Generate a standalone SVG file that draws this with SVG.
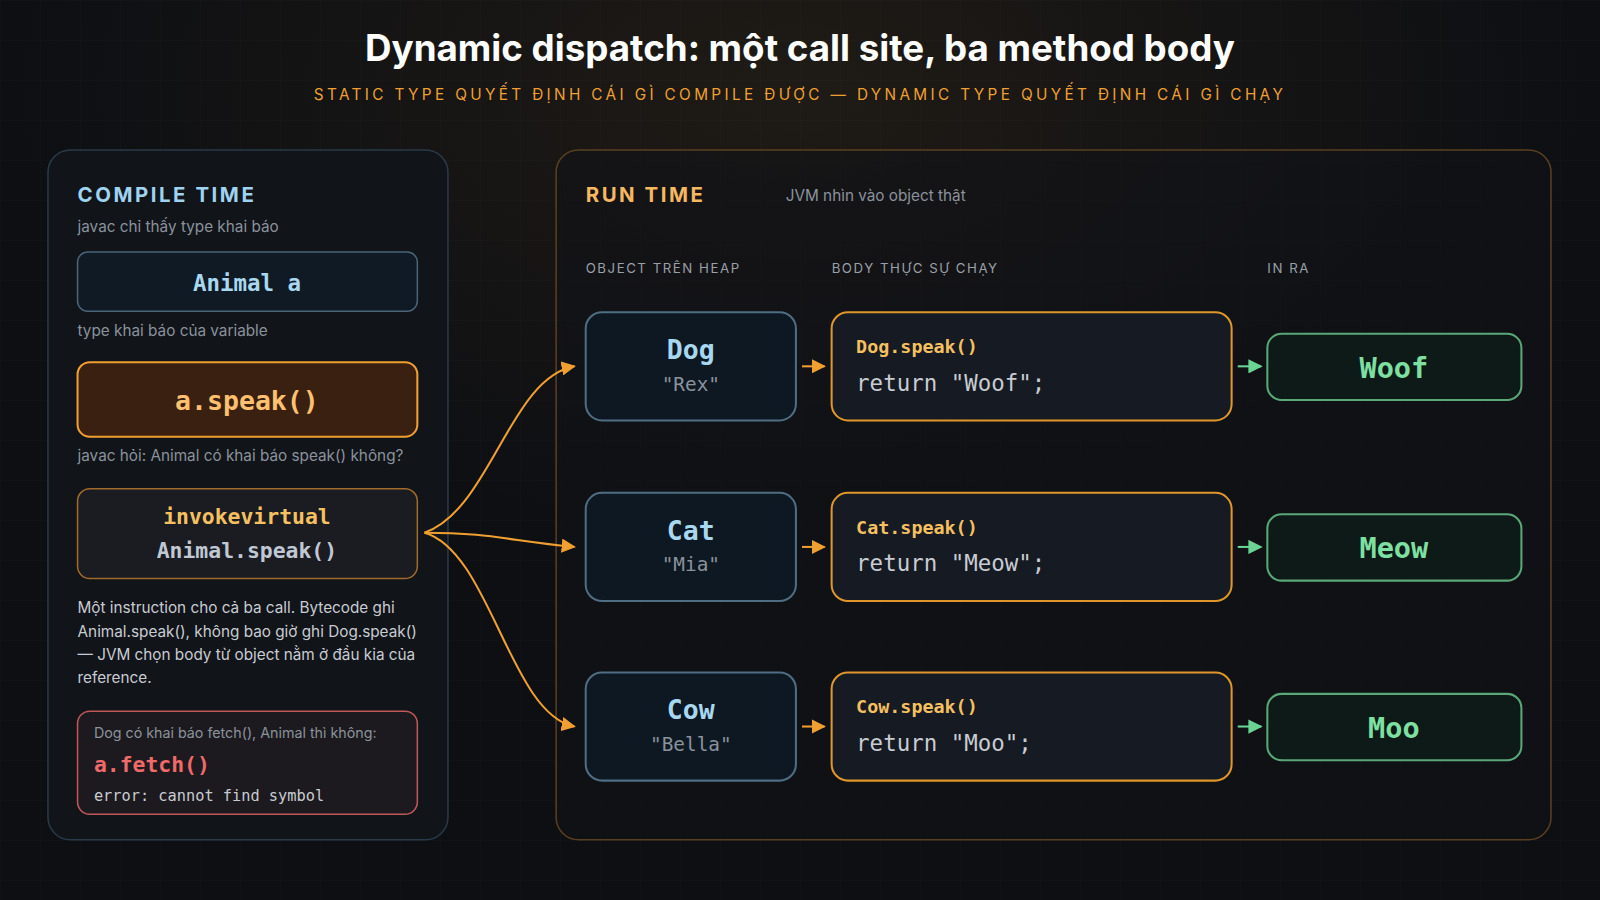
<svg xmlns="http://www.w3.org/2000/svg" width="1600" height="900" viewBox="0 0 1600 900">
<defs>
<pattern id="grid" width="40" height="40" patternUnits="userSpaceOnUse"><path d="M40 0H0V40" fill="none" stroke="#ffffff" stroke-opacity="0.025"/></pattern>
<radialGradient id="glow" cx="0.5" cy="0.1" r="0.5"><stop offset="0" stop-color="#f0a030" stop-opacity="0.08"/><stop offset="1" stop-color="#f0a030" stop-opacity="0"/></radialGradient>
<marker id="ao" viewBox="0 0 10 10" refX="9" refY="5" markerWidth="7" markerHeight="7" orient="auto"><path d="M0 0L10 5L0 10z" fill="#f0a030"/></marker>
<marker id="ag" viewBox="0 0 10 10" refX="9" refY="5" markerWidth="7" markerHeight="7" orient="auto"><path d="M0 0L10 5L0 10z" fill="#6ad494"/></marker>
<style>
.s{font-family:Inter,"Noto Sans",sans-serif}
.m{font-family:"DejaVu Sans Mono","Liberation Mono",monospace}
.cap{font-size:15px;fill:#8a929c}
.hd{font-size:13px;fill:#9aa0a8;letter-spacing:1.5px}
.obj{fill:#0e1822;stroke:#4f6e84;stroke-width:2}
.body{fill:#161a22;stroke:#e0962a;stroke-width:2}
.out{fill:#0e1a18;stroke:#5aa878;stroke-width:2}
.on{font-size:26px;font-weight:bold;fill:#a8d8f0;text-anchor:middle}
.oq{font-size:19px;fill:#8a929c;text-anchor:middle}
.b1{font-size:18px;font-weight:bold;fill:#f5c060}
.b2{font-size:22px;fill:#c8ccd2}
.ot{font-size:28px;font-weight:bold;fill:#7ee0a0;text-anchor:middle}
.ps{font-size:15px;fill:#c8ccd2}
</style>
</defs>
<rect width="1600" height="900" fill="#0d0f13"/>
<rect width="1600" height="900" fill="url(#grid)"/>
<rect width="1600" height="900" fill="url(#glow)"/>
<g transform="scale(1.0204)">
<g id="title">
<text class="s" x="784" y="60" text-anchor="middle" font-size="36" font-weight="bold" fill="#ffffff">Dynamic dispatch: một call site, ba method body</text>
<text class="s" x="784" y="98" text-anchor="middle" font-size="15" fill="#f0a030" letter-spacing="3.3">STATIC TYPE QUYẾT ĐỊNH CÁI GÌ COMPILE ĐƯỢC — DYNAMIC TYPE QUYẾT ĐỊNH CÁI GÌ CHẠY</text>
</g>
<g id="compile-panel">
<rect x="47" y="147" width="392" height="676" rx="22" fill="#111419" stroke="#2a3a48" stroke-width="1.5"/>
<text class="s" x="76" y="198" font-size="20" font-weight="bold" fill="#9fd3f0" letter-spacing="2.5">COMPILE TIME</text>
<text class="s cap" x="76" y="227">javac chỉ thấy type khai báo</text>
</g>
<g id="animal-a">
<rect x="76" y="247" width="333" height="58" rx="10" fill="#0f1a24" stroke="#4a6478" stroke-width="1.5"/>
<text class="m" x="242" y="285" text-anchor="middle" font-size="22" font-weight="bold" fill="#a8d8f0">Animal a</text>
<text class="s cap" x="76" y="329">type khai báo của variable</text>
</g>
<g id="a-speak">
<rect x="76" y="355" width="333" height="73" rx="12" fill="#3a2010" stroke="#f0a030" stroke-width="2"/>
<text class="m" x="242" y="402" text-anchor="middle" font-size="26" font-weight="bold" fill="#ffc070">a.speak()</text>
<text class="s cap" x="76" y="452">javac hỏi: Animal có khai báo speak() không?</text>
</g>
<g id="invokevirtual">
<rect x="76" y="479" width="333" height="88" rx="12" fill="#1a1c22" stroke="#a06a2a" stroke-width="1.5"/>
<text class="m" x="242" y="514" text-anchor="middle" font-size="21" font-weight="bold" fill="#f5c060">invokevirtual</text>
<text class="m" x="242" y="547" text-anchor="middle" font-size="21" font-weight="bold" fill="#c0c8d4">Animal.speak()</text>
<text class="s ps" x="76" y="601">Một instruction cho cả ba call. Bytecode ghi</text>
<text class="s ps" x="76" y="624">Animal.speak(), không bao giờ ghi Dog.speak()</text>
<text class="s ps" x="76" y="647">— JVM chọn body từ object nằm ở đầu kia của</text>
<text class="s ps" x="76" y="669">reference.</text>
</g>
<g id="fetch-error">
<rect x="76" y="697" width="333" height="101" rx="12" fill="#1c1a1e" stroke="#c05858" stroke-width="1.5"/>
<text class="s" x="92" y="723" font-size="14" fill="#8a929c">Dog có khai báo fetch(), Animal thì không:</text>
<text class="m" x="92" y="757" font-size="21" font-weight="bold" fill="#f06a6a">a.fetch()</text>
<text class="m" x="92" y="785" font-size="15" fill="#c8ccd2">error: cannot find symbol</text>
</g>
<g id="run-panel">
<rect x="545" y="147" width="975" height="676" rx="22" fill="#111318" fill-opacity="0.6" stroke="#5a4020" stroke-width="1.5"/>
<text class="s" x="574" y="198" font-size="20" font-weight="bold" fill="#f5b860" letter-spacing="2.5">RUN TIME</text>
<text class="s cap" x="770" y="197">JVM nhìn vào object thật</text>
<text class="s hd" x="574" y="268">OBJECT TRÊN HEAP</text>
<text class="s hd" x="815" y="268">BODY THỰC SỰ CHẠY</text>
<text class="s hd" x="1242" y="268">IN RA</text>
</g>
<g id="dog"><rect class="obj" x="574" y="306" width="206" height="106" rx="16"/><text class="m on" x="677" y="352">Dog</text><text class="m oq" x="677" y="383">"Rex"</text></g>
<g id="dog-body"><rect class="body" x="815" y="306" width="392" height="106" rx="16"/><text class="m b1" x="839" y="346">Dog.speak()</text><text class="m b2" x="839" y="383">return "Woof";</text></g>
<g id="woof"><rect class="out" x="1242" y="327" width="249" height="65" rx="14"/><text class="m ot" x="1366" y="370">Woof</text></g>
<g id="cat"><rect class="obj" x="574" y="483" width="206" height="106" rx="16"/><text class="m on" x="677" y="529">Cat</text><text class="m oq" x="677" y="560">"Mia"</text></g>
<g id="cat-body"><rect class="body" x="815" y="483" width="392" height="106" rx="16"/><text class="m b1" x="839" y="523">Cat.speak()</text><text class="m b2" x="839" y="560">return "Meow";</text></g>
<g id="meow"><rect class="out" x="1242" y="504" width="249" height="65" rx="14"/><text class="m ot" x="1366" y="547">Meow</text></g>
<g id="cow"><rect class="obj" x="574" y="659" width="206" height="106" rx="16"/><text class="m on" x="677" y="705">Cow</text><text class="m oq" x="677" y="736">"Bella"</text></g>
<g id="cow-body"><rect class="body" x="815" y="659" width="392" height="106" rx="16"/><text class="m b1" x="839" y="699">Cow.speak()</text><text class="m b2" x="839" y="736">return "Moo";</text></g>
<g id="moo"><rect class="out" x="1242" y="680" width="249" height="65" rx="14"/><text class="m ot" x="1366" y="723">Moo</text></g>
<g id="connectors" fill="none" stroke-width="2">
<path d="M416 522C480 500 500 370 563 359" stroke="#f0a030" marker-end="url(#ao)"/>
<path d="M416 522C480 522 500 530 563 536" stroke="#f0a030" marker-end="url(#ao)"/>
<path d="M416 522C480 540 500 700 563 712" stroke="#f0a030" marker-end="url(#ao)"/>
<path d="M786 359H808" stroke="#f0a030" marker-end="url(#ao)"/>
<path d="M786 536H808" stroke="#f0a030" marker-end="url(#ao)"/>
<path d="M786 712H808" stroke="#f0a030" marker-end="url(#ao)"/>
<path d="M1213 359H1236" stroke="#6ad494" marker-end="url(#ag)"/>
<path d="M1213 536H1236" stroke="#6ad494" marker-end="url(#ag)"/>
<path d="M1213 712H1236" stroke="#6ad494" marker-end="url(#ag)"/>
</g>
</g>
</svg>
